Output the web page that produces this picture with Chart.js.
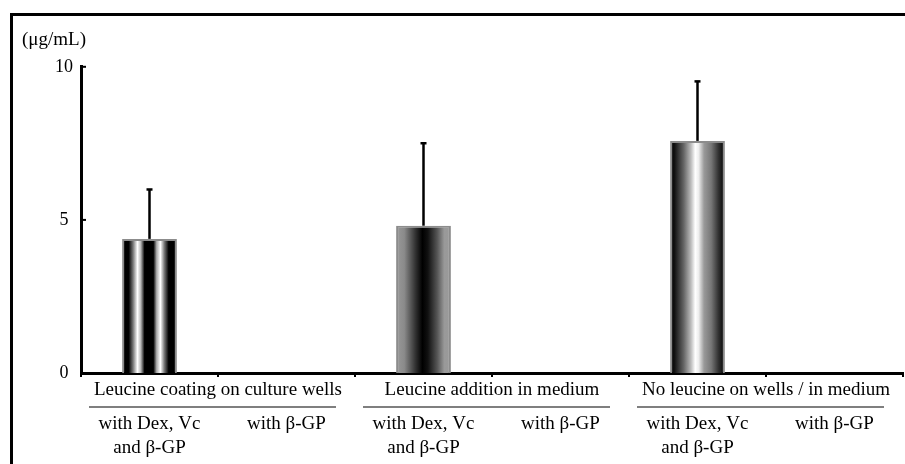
<!DOCTYPE html>
<html>
<head>
<meta charset="utf-8">
<script src="https://cdn.jsdelivr.net/npm/chart.js@4"></script>
<style>
  html, body { margin: 0; padding: 0; background: #fff; }
  #wrap { width: 905px; height: 464px; }
</style>
</head>
<body>
<div id="wrap"><canvas id="grafico" width="905" height="464"></canvas></div>
<script>
// Dados
const categorias = ['c1', 'c2', 'c3', 'c4', 'c5', 'c6'];
const grupos = ['Leucine coating on culture wells', 'Leucine addition in medium', 'No leucine on wells / in medium'];
const condicoes = [['with Dex, Vc', 'and β-GP'], 'with β-GP', ['with Dex, Vc', 'and β-GP'], 'with β-GP', ['with Dex, Vc', 'and β-GP'], 'with β-GP'];
const medias = [4.38, 0, 4.81, 0, 7.58, 0];
const desvios = [1.63, 0, 2.71, 0, 1.96, 0];
const ticksY = [0, 5, 10];

// Sombreamento (degradê horizontal) de cada barra
const degrades = [
    [[0, '#000'], [0.12, '#000'], [0.2, '#777'], [0.28, '#fff'], [0.34, '#bbb'], [0.41, '#000'], [0.57, '#000'], [0.63, '#aaa'], [0.7, '#fff'], [0.77, '#777'], [0.85, '#000'], [1, '#000']],
    null,
    [[0, '#9a9a9a'], [0.15, '#8a8a8a'], [0.35, '#333'], [0.48, '#000'], [0.58, '#111'], [0.75, '#555'], [0.88, '#999'], [1, '#9a9a9a']],
    null,
    [[0, '#000'], [0.08, '#111'], [0.25, '#666'], [0.38, '#bbb'], [0.46, '#fff'], [0.52, '#eee'], [0.62, '#999'], [0.75, '#777'], [0.88, '#333'], [1, '#000']],
    null
];

const fonte = "'Liberation Serif', 'Times New Roman', serif";
const PCT_CAT = 0.8, PCT_BARRA = 0.5;

function corBarra(ctx) {
    const chart = ctx.chart;
    const xs = chart.scales.x;
    const stops = degrades[ctx.dataIndex];
    if (!xs || !chart.chartArea || !stops) return '#000';
    const largura = xs.width / categorias.length * PCT_CAT * PCT_BARRA;
    const cx = xs.getPixelForValue(ctx.dataIndex);
    const g = chart.ctx.createLinearGradient(cx - largura / 2, 0, cx + largura / 2, 0);
    stops.forEach(s => g.addColorStop(s[0], s[1]));
    return g;
}

// Moldura, barras de erro, ticks internos do eixo Y e linhas sob os grupos
const extras = {
    id: 'extras',
    beforeDraw(chart) {
        const c = chart.ctx;
        c.save();
        c.fillStyle = '#fff';
        c.fillRect(0, 0, chart.width, chart.height);
        c.restore();
    },
    afterDatasetsDraw(chart) {
        const c = chart.ctx;
        const ys = chart.scales.y;
        const meta = chart.getDatasetMeta(0);
        c.save();
        c.strokeStyle = '#000';
        meta.data.forEach((barra, i) => {
            if (!desvios[i]) return;
            const yTopo = ys.getPixelForValue(medias[i] + desvios[i]);
            c.lineWidth = 2.5;
            c.beginPath();
            c.moveTo(barra.x, barra.y);
            c.lineTo(barra.x, yTopo);
            c.stroke();
            c.beginPath();
            c.moveTo(barra.x - 3, yTopo + 0.5);
            c.lineTo(barra.x + 3, yTopo + 0.5);
            c.stroke();
        });
        c.restore();
    },
    afterDraw(chart) {
        const c = chart.ctx;
        const ys = chart.scales.y;
        const xg = chart.scales.xGrupo;
        const xsub = chart.scales.xSub;
        c.save();
        // ticks do eixo Y para dentro
        c.strokeStyle = '#000';
        c.lineWidth = 2;
        ys.ticks.forEach(t => {
            const y = ys.getPixelForValue(t.value);
            c.beginPath();
            c.moveTo(ys.right, y);
            c.lineTo(ys.right + 5, y);
            c.stroke();
        });
        // linhas sob os rótulos dos grupos
        c.strokeStyle = '#555';
        c.lineWidth = 1.5;
        const yLinha = xsub.top + 5;
        grupos.forEach((g, i) => {
            const cx = xg.getPixelForValue(i);
            c.beginPath();
            c.moveTo(cx - 129, yLinha);
            c.lineTo(cx + 118, yLinha);
            c.stroke();
        });
        // moldura
        c.strokeStyle = '#000';
        c.lineWidth = 3;
        c.beginPath();
        c.moveTo(11.5, chart.height);
        c.lineTo(11.5, 14.5);
        c.lineTo(chart.width, 14.5);
        c.stroke();
        c.restore();
    }
};

function criarGrafico() {
    const ctx = document.getElementById('grafico').getContext('2d');
    return new Chart(ctx, {
        type: 'bar',
        data: {
            labels: categorias,
            datasets: [{
                data: medias,
                backgroundColor: corBarra,
                borderColor: '#8c8c8c',
                borderWidth: 2,
                borderSkipped: 'bottom',
                categoryPercentage: PCT_CAT,
                barPercentage: PCT_BARRA,
                xAxisID: 'x'
            }]
        },
        options: {
            responsive: false,
            animation: false,
            layout: { padding: { left: 22, right: 2, top: 0, bottom: 0 } },
            plugins: {
                legend: { display: false },
                tooltip: { enabled: false },
                title: {
                    display: true,
                    text: '(μg/mL)',
                    align: 'start',
                    color: '#000',
                    font: { family: fonte, size: 19, weight: 'normal', lineHeight: 1.2 },
                    padding: { top: 29, bottom: 15 }
                }
            },
            scales: {
                x: {
                    type: 'category',
                    offset: true,
                    weight: 0,
                    afterFit: (escala) => { escala.height = 4; },
                    grid: { display: true, drawOnChartArea: false, drawTicks: true, tickLength: 4, color: '#000', lineWidth: 2, offset: true },
                    border: { display: true, color: '#000', width: 3 },
                    ticks: { display: false }
                },
                xGrupo: {
                    type: 'category',
                    position: 'bottom',
                    labels: grupos,
                    offset: true,
                    weight: 1,
                    afterFit: (escala) => { escala.height = 25; },
                    grid: { display: false, drawTicks: false },
                    border: { display: false },
                    ticks: { color: '#000', padding: 2, maxRotation: 0, autoSkip: false, font: { family: fonte, size: 19, lineHeight: 1.2 } }
                },
                xSub: {
                    type: 'category',
                    position: 'bottom',
                    labels: condicoes,
                    offset: true,
                    weight: 2,
                    afterFit: (escala) => { escala.height = 62; },
                    grid: { display: false, drawTicks: false },
                    border: { display: false },
                    ticks: { color: '#000', padding: 10, maxRotation: 0, autoSkip: false, font: { family: fonte, size: 19, lineHeight: 1.25 } }
                },
                y: {
                    min: 0,
                    max: 10,
                    afterFit: (escala) => { escala.width = 59; },
                    afterBuildTicks: (escala) => { escala.ticks = ticksY.map(v => ({ value: v })); },
                    grid: { display: false, drawTicks: false },
                    border: { display: true, color: '#000', width: 3 },
                    ticks: { color: '#000', padding: 8, crossAlign: 'center', font: { family: fonte, size: 18 } }
                }
            }
        },
        plugins: [extras]
    });
}

document.addEventListener('DOMContentLoaded', () => {
    criarGrafico();
});
</script>
</body>
</html>
